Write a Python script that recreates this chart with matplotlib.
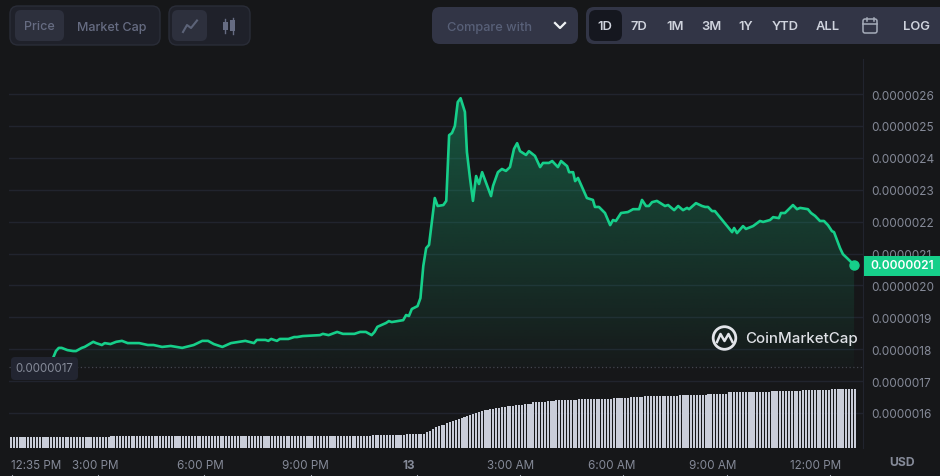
import numpy as np
import matplotlib.pyplot as plt
from matplotlib.patches import FancyBboxPatch, Rectangle, Circle

plt.rcParams["font.family"] = ["Inter", "DejaVu Sans"]

# ------------------------------
# data (x = 5 minute sample number, price in 1e-7 USD)
# ------------------------------
price_x = [15, 16, 17, 18, 20, 22, 23, 25, 26, 29, 30, 32, 33, 35, 37, 39, 41, 45, 48, 50,
           53, 56, 60, 64, 67, 69, 71, 74, 77, 80, 82, 85, 86, 89, 90, 91, 93, 94, 97, 99,
           100, 102, 108, 109, 111, 114, 116, 120, 122, 124, 126, 127, 128, 131, 132, 133, 137, 138, 139, 140,
           142, 143, 144, 145, 146, 148, 149, 151, 152, 153, 154, 155, 156, 157, 158.5, 159.2, 160.3, 161.3, 162.4, 163.4,
           164.5, 167.6, 168.3, 170, 171.4, 172.8, 174.2, 175.6, 176.7, 177.7, 179.8, 180.8, 182.9, 184.7, 185.7, 187.8, 188.9, 190.9, 192, 194.1,
           194.8, 196.2, 196.9, 197.9, 201, 203.1, 203.8, 205.2, 207.3, 209.1, 210.1, 211.1, 212.9, 215.3, 217.1, 219.2, 220.2, 221.6, 222.6, 223.7,
           225.4, 228.2, 229.3, 231.4, 232.8, 234.5, 235.9, 236.6, 239, 241.1, 242.2, 243.2, 244.6, 245.6, 251.6, 252.3, 253.3, 255.4, 256.4, 258.9,
           261.3, 262.4, 264.8, 265.9, 267.9, 268.6, 270, 272.8, 274.2, 275.3, 278, 279.1, 280.5, 282.2, 283.6, 285, 286.4, 287.1, 289.2, 290.2,
           291.6, 294.1]
price = [17.72, 17.94, 18.04, 18.04, 17.97, 17.94, 17.94, 18.04, 18.07, 18.23, 18.19, 18.13, 18.19, 18.16, 18.23, 18.26, 18.19, 18.19, 18.13, 18.13,
         18.07, 18.10, 18.04, 18.13, 18.26, 18.26, 18.16, 18.07, 18.19, 18.23, 18.26, 18.19, 18.29, 18.29, 18.26, 18.32, 18.26, 18.32, 18.32, 18.38,
         18.38, 18.41, 18.44, 18.48, 18.44, 18.54, 18.48, 18.48, 18.54, 18.54, 18.44, 18.54, 18.70, 18.82, 18.88, 18.85, 18.91, 19.07, 19.04, 19.26,
         19.35, 19.60, 20.61, 21.17, 21.27, 22.74, 22.49, 22.52, 22.65, 24.71, 24.78, 25.00, 25.75, 25.87, 25.44, 24.18, 23.34, 22.65, 23.43, 23.18,
         23.55, 22.80, 23.12, 23.55, 23.65, 23.59, 23.71, 24.28, 24.46, 24.21, 24.09, 24.21, 24.06, 23.71, 23.84, 23.84, 23.90, 23.71, 23.90, 23.74,
         23.55, 23.55, 23.27, 23.37, 22.74, 22.68, 22.46, 22.46, 22.27, 21.89, 22.05, 22.02, 22.27, 22.30, 22.39, 22.39, 22.68, 22.49, 22.49, 22.61,
         22.65, 22.49, 22.52, 22.36, 22.49, 22.36, 22.43, 22.39, 22.58, 22.49, 22.46, 22.46, 22.33, 22.33, 21.67, 21.80, 21.64, 21.86, 21.77, 21.86,
         22.02, 21.99, 22.05, 22.14, 22.11, 22.27, 22.27, 22.52, 22.39, 22.43, 22.39, 22.27, 22.18, 22.02, 22.02, 21.89, 21.70, 21.67, 21.17, 20.98,
         20.86, 20.64]
volume = [
    10.7, 10.7, 10.7, 10.7, 10.7, 10.7, 10.7, 10.7, 10.7, 10.7,
    10.7, 10.7, 11.3, 11.3, 11.3, 11.3, 11.3, 11.3, 11.3, 11.3,
    11.3, 11.3, 11.3, 11.3, 11.3, 11.3, 11.3, 11.3, 11.3, 11.3,
    11.3, 11.3, 11.3, 11.3, 11.3, 11.7, 11.7, 11.7, 11.7, 11.7,
    11.7, 11.7, 11.7, 11.7, 11.7, 11.7, 11.7, 11.7, 11.7, 11.7,
    11.7, 11.7, 11.7, 11.7, 11.7, 11.7, 11.7, 11.7, 11.7, 11.7,
    11.7, 11.7, 11.7, 11.7, 11.7, 11.7, 11.7, 11.7, 11.7, 11.7,
    11.7, 11.7, 11.7, 12.3, 12.3, 12.3, 12.3, 12.3, 12.3, 12.3,
    12.3, 12.3, 12.3, 12.3, 12.3, 12.3, 12.3, 12.3, 12.3, 12.3,
    12.3, 12.3, 12.3, 12.3, 12.3, 12.3, 12.3, 12.3, 12.3, 12.3,
    12.5, 12.5, 12.5, 12.5, 12.5, 12.5, 12.5, 12.5, 12.5, 12.5,
    12.5, 12.5, 12.5, 12.5, 12.5, 12.5, 12.5, 12.5, 12.5, 12.5,
    12.5, 12.5, 12.5, 12.5, 12.5, 12.5, 13.0, 13.0, 13.0, 13.0,
    13.0, 13.0, 13.0, 13.0, 13.0, 13.0, 13.0, 13.0, 13.7, 13.7,
    13.7, 13.7, 13.7, 13.7, 14.5, 16.0, 17.5, 19.0, 21.0, 22.0,
    23.0, 23.5, 25.0, 26.0, 27.0, 28.5, 29.0, 30.0, 31.5, 32.5,
    33.0, 34.0, 35.0, 36.0, 37.0, 38.5, 38.5, 39.0, 39.5, 40.3,
    40.5, 41.0, 41.5, 42.0, 42.3, 42.5, 43.0, 43.3, 43.5, 44.0,
    44.3, 44.5, 45.7, 45.7, 45.7, 45.7, 45.7, 46.7, 46.7, 46.7,
    47.7, 47.7, 47.7, 47.7, 47.7, 47.7, 47.7, 47.7, 48.7, 48.7,
    48.7, 48.7, 48.7, 48.7, 48.7, 49.3, 49.3, 49.3, 49.3, 49.3,
    50.0, 50.0, 50.0, 50.0, 50.0, 50.0, 50.7, 50.7, 50.7, 50.7,
    50.7, 52.0, 52.0, 52.0, 52.0, 52.0, 52.0, 52.0, 52.0, 52.0,
    52.0, 52.0, 52.0, 52.7, 52.7, 52.7, 52.7, 52.7, 52.7, 52.7,
    52.7, 52.7, 52.7, 53.7, 53.7, 53.7, 53.7, 53.7, 53.7, 53.7,
    55.7, 55.7, 55.7, 55.7, 55.7, 56.3, 56.3, 56.3, 56.3, 56.3,
    56.3, 56.3, 56.3, 56.3, 56.3, 57.0, 57.0, 57.0, 57.0, 57.0,
    57.0, 57.0, 57.0, 57.0, 57.0, 57.0, 57.7, 57.7, 57.7, 57.7,
    57.7, 57.7, 57.7, 57.7, 57.7, 57.7, 58.7, 58.7, 58.7, 58.7,
    58.7, 58.7, 58.7, 58.7, 58.7]
y_ticks = [16, 17, 18, 19, 20, 21, 22, 23, 24, 25, 26]
x_ticks = [9.06, 29.8, 66.2, 102.8, 139, 174.5, 209.7, 245, 280.5]
x_labels = ["12:35 PM", "3:00 PM", "6:00 PM", "9:00 PM", "13", "3:00 AM", "6:00 AM", "9:00 AM", "12:00 PM"]
open_price = 17.44
last_label = "0.0000021"

BG = "#161719"
GREEN = "#16cf8a"
GREY = "#858a98"

fig = plt.figure(figsize=(9.4, 4.77), dpi=100, facecolor=BG)

# chart area runs from x=9 to 863 and y=60 to 449 in picture pixels
ax = fig.add_axes([9 / 940, (477 - 449) / 477, 854 / 940, 389 / 477], facecolor=BG)
ax.set_xlim(-0.348, 297.2)
ax.set_ylim(14.90, 27.10)

# area under the line, fades towards the open price
fade = np.zeros((256, 2, 4))
fade[..., 0] = 0x16 / 255
fade[..., 1] = 0xc7 / 255
fade[..., 2] = 0x84 / 255
fade[..., 3] = np.linspace(0.36, 0.02, 256)[:, None]
area = ax.fill_between(price_x, price, open_price, color="none", lw=0)
img = ax.imshow(fade, extent=[price_x[0], price_x[-1], open_price, max(price)],
                aspect="auto", origin="upper", zorder=2)
img.set_clip_path(area.get_paths()[0], transform=ax.transData)
ax.set_xlim(-0.348, 297.2)
ax.set_ylim(14.90, 27.10)

ax.axhline(open_price, color="#43464f", lw=0.9, ls=(0, (1, 2)), zorder=2)
ax.plot(price_x, price, color=GREEN, lw=1.9, zorder=4, solid_joinstyle="round")
ax.plot(price_x[-1], price[-1], "o", color=GREEN, ms=6.5, zorder=5)

# volume shares the x axis, own scale
ax2 = ax.twinx()
ax2.set_ylim(0, 389)
ax2.axis("off")
ax2.bar(np.arange(len(volume)), volume, width=0.72, align="edge", color="#c9cdd9", lw=0)

# grid + axis, has to come after twinx since that moves the ticks
ax.yaxis.tick_right()
ax.set_yticks(y_ticks)
ax.set_yticklabels([f"{v * 1e-7:.7f}" for v in y_ticks], color=GREY, fontsize=8.5)
ax.tick_params(axis="y", length=0, pad=6)
ax.grid(axis="y", color="#21242e", lw=1)
ax.set_xticks(x_ticks)
ax.set_xticklabels(x_labels, color=GREY, fontsize=8.4)
ax.get_xticklabels()[4].set_fontweight("bold")
ax.tick_params(axis="x", length=0, pad=8)
for name, sp in ax.spines.items():
    sp.set_visible(name == "right")
    sp.set_color("#21242e")
ax.set_axisbelow(True)

# ------------------------------
# page furniture, drawn in picture pixels
# ------------------------------
ui = fig.add_axes([0, 0, 1, 1], facecolor="none")
ui.set_xlim(0, 940)
ui.set_ylim(477, 0)
ui.axis("off")


def box(x0, y0, x1, y1, fill, edge="none", r=6):
    ui.add_patch(FancyBboxPatch((x0 + r, y0 + r), x1 - x0 - 2 * r, y1 - y0 - 2 * r,
                                boxstyle=f"round,pad={r},rounding_size={r}",
                                fc=fill, ec=edge, lw=1))


def label(x, y, s, color, size=8.3, weight="normal", ha="center"):
    ui.text(x, y, s, color=color, fontsize=size, fontweight=weight, ha=ha, va="center")


box(10, 7, 160, 46, "#1f212a", "#2a2d38", 8)
box(15, 11, 64, 42, "#2d303d")
label(39, 27.5, "Price", "#666c82", 9, "medium")
label(111.5, 27.5, "Market Cap", "#666c82", 9, "medium")
box(169, 7, 250, 46, "#1f212a", "#2a2d38", 8)
box(172, 11, 207, 42, "#2d303d")
ui.plot([183, 187, 191, 197], [33, 26, 29, 21.5], color="#5c6378", lw=1.5)
ui.add_patch(Rectangle((223, 23), 4.5, 8, fc="#666c82"))
ui.plot([225.2, 225.2], [20, 34], color="#666c82", lw=1)
ui.add_patch(Rectangle((230, 21), 5, 11, fc="#666c82"))
ui.plot([232.5, 232.5], [19, 35], color="#666c82", lw=1)

box(432, 8, 578, 45, "#323546", r=8)
label(447, 28, "Compare with", "#586078", 9.2, "medium", "left")
ui.plot([555, 560, 565], [24, 29, 24], color="#f0f2f5", lw=1.6)

box(586, 8, 948, 45, "#323546", r=8)
box(589, 11, 622, 42, "#15171f", r=7)
range_names = ["1D", "7D", "1M", "3M", "1Y", "YTD", "ALL", "LOG"]
range_x = [605, 639, 675, 711, 746, 785, 828, 917]
for nx, nm in zip(range_x, range_names):
    label(nx, 27.5, nm, "#cfd3dd", 9.3, "semibold")
ui.add_patch(FancyBboxPatch((864, 21), 12, 12, boxstyle="round,pad=1,rounding_size=2",
                            fc="none", ec="#a6acba", lw=1.1))
ui.plot([863, 877], [25, 25], color="#a6acba", lw=1.1)
ui.plot([866.5, 866.5], [18.5, 22], color="#a6acba", lw=1.1)
ui.plot([873.5, 873.5], [18.5, 22], color="#a6acba", lw=1.1)

# price tags
ui.add_patch(Rectangle((864, 256.5), 76, 20, fc=GREEN, lw=0))
label(902, 266.5, last_label, "white", 8.6, "semibold")
box(11, 358, 78, 381, "#222531", r=4)
label(44.5, 369.5, "0.0000017", GREY, 8.3)
label(902, 463.5, "USD", GREY, 8.8, "bold")

# tick stubs cut off at the lower edge
for tx in [12, 98, 204, 311, 417, 520, 623, 727, 830]:
    ui.plot([tx, tx], [475.5, 477], color="#9a9eaa", lw=0.8)

# logo
ui.add_patch(Circle((724.5, 339), 11.3, fc="none", ec="#e2e4e9", lw=2))
ui.plot([717, 720.5, 724.5, 728.5, 732.5], [343, 335, 342, 335, 343], color="#e2e4e9", lw=1.8)
label(745, 339.5, "CoinMarketCap", "#dfe1e6", 10.8, "medium", "left")

fig.savefig("out.png", dpi=100, facecolor=BG)
